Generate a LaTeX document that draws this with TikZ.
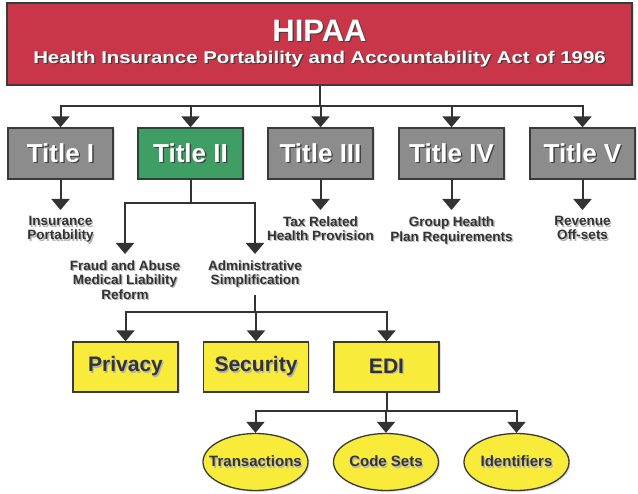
\documentclass[tikz,border=0pt]{standalone}
\usepackage{fontspec}
\setmainfont{Liberation Sans}
\newfontfamily\widesans[FakeStretch=1.2]{Liberation Sans}
\usetikzlibrary{arrows.meta,shapes.geometric,shadows}

\definecolor{headred}{HTML}{C93549}
\definecolor{titlegray}{HTML}{8C8C8C}
\definecolor{titlegreen}{HTML}{3E9E64}
\definecolor{boxyellow}{HTML}{F8EB3A}
\definecolor{edgeclr}{HTML}{3A3A3A}
\definecolor{lineclr}{HTML}{333333}
\definecolor{labelclr}{HTML}{333333}

% text with a small offset shadow behind it
\newcommand\shadowtext[2]{\leavevmode\rlap{\hspace{1.3pt}\raisebox{-1.3pt}{\color{#1}#2}}#2}
\newcommand\lighttext[1]{\shadowtext{black!75}{#1}}
\newcommand\darktext[1]{\shadowtext{black!30}{#1}}

\begin{document}
\begin{tikzpicture}[x=1pt,y=-1pt,
  conn/.style={draw=lineclr, line width=2pt},
  arr/.style={conn, -{Triangle[width=18pt,length=11pt]}},
  boxbase/.style={draw=edgeclr, line width=1.3pt, inner sep=0pt,
    drop shadow={opacity=0.25, shadow xshift=1.5pt, shadow yshift=-1.5pt}},
  headbox/.style={boxbase, fill=headred, minimum width=625pt, minimum height=82pt,
    text=white, align=center, font=\widesans\fontsize{17}{22}\selectfont\bfseries},
  titlebox/.style={boxbase, minimum width=105pt, minimum height=51pt,
    text=white, font=\fontsize{26}{28}\selectfont\bfseries},
  leafbox/.style={boxbase, fill=boxyellow, minimum width=105pt, minimum height=50pt,
    text=labelclr, font=\fontsize{21}{24}\selectfont\bfseries},
  leafoval/.style={boxbase, ellipse, fill=boxyellow, minimum width=105pt, minimum height=57pt,
    text=labelclr, font=\fontsize{15}{18}\selectfont\bfseries},
  label/.style={anchor=north, inner xsep=0pt, inner ysep=6.5pt, align=center,
    text=labelclr, font=\fontsize{13.5}{13.8}\selectfont\bfseries}
]
\useasboundingbox (0,0) rectangle (638,494);

% top-level act
\node[headbox] (hipaa) at (319.5,44)
  {{\normalfont\fontsize{31}{31}\selectfont\bfseries\lighttext{HIPAA}}\\
   \lighttext{Health Insurance Portability and Accountability Act of 1996}};

% titles
\node[titlebox, fill=titlegray]  (t1) at (60.5,153.5)  {\lighttext{Title I}};
\node[titlebox, fill=titlegreen] (t2) at (190.5,153.5) {\lighttext{Title II}};
\node[titlebox, fill=titlegray]  (t3) at (320.5,153.5) {\lighttext{Title III}};
\node[titlebox, fill=titlegray]  (t4) at (451.5,153.5) {\lighttext{Title IV}};
\node[titlebox, fill=titlegray]  (t5) at (582.5,153.5) {\lighttext{Title V}};

% title contents
\node[label] (ins) at (60.5,210)  {\darktext{Insurance}\\\darktext{Portability}};
\node[label] (tax) at (320.5,210) {\darktext{Tax Related}\\\darktext{Health Provision}};
\node[label] (grp) at (451.5,210) {\darktext{Group Health}\\\darktext{Plan Requirements}};
\node[label] (rev) at (582.5,210) {\darktext{Revenue}\\\darktext{Off-sets}};
\node[label] (fraud) at (125,254) {\darktext{Fraud and Abuse}\\\darktext{Medical Liability}\\\darktext{Reform}};
\node[label] (admin) at (255,254) {\darktext{Administrative}\\\darktext{Simplification}};

% administrative simplification rules
\node[leafbox] (priv) at (125.5,367) {\darktext{Privacy}};
\node[leafbox] (sec)  at (256,367)   {\darktext{Security}};
\node[leafbox] (edi)  at (386.5,367) {\darktext{EDI}};

% EDI standards
\node[leafoval] (trans) at (255.5,462) {\makebox[0pt]{\darktext{Transactions}}};
\node[leafoval] (code)  at (386,462)   {\makebox[0pt]{\darktext{Code Sets}}};
\node[leafoval] (ident) at (516.5,462) {\makebox[0pt]{\darktext{Identifiers}}};

% connectors
\foreach \t in {t1,t2,t3,t4,t5}
  \draw[arr] (hipaa.south) -- ++(0,20) -| (\t.north);

\draw[arr] (t1.south) -- (ins.north);
\draw[arr] (t3.south) -- (tax.north);
\draw[arr] (t4.south) -- (grp.north);
\draw[arr] (t5.south) -- (rev.north);

\draw[arr] (t2.south) -- ++(0,23) -| (fraud.north);
\draw[arr] (t2.south) -- ++(0,23) -| (admin.north);

\foreach \b in {priv,sec,edi}
  \draw[arr] (admin.south) -- (admin.south |- 0,312) -| (\b.north);

\foreach \e in {trans,code,ident}
  \draw[arr] (edi.south) -- ++(0,18) -| (\e.north);
\end{tikzpicture}
\end{document}
